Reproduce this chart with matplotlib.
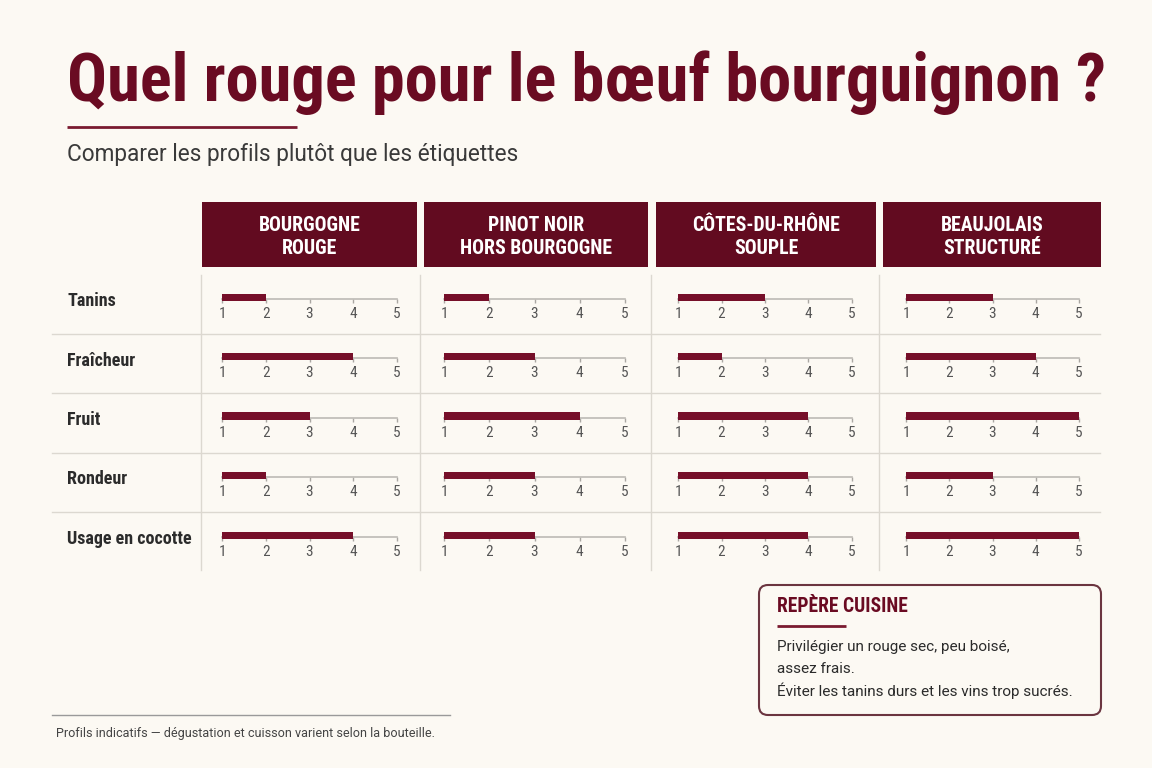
import matplotlib
matplotlib.use("Agg")
import matplotlib.pyplot as plt
from matplotlib.patches import Rectangle, FancyBboxPatch

# data
wines = ["BOURGOGNE\nROUGE", "PINOT NOIR\nHORS BOURGOGNE", "CÔTES-DU-RHÔNE\nSOUPLE", "BEAUJOLAIS\nSTRUCTURÉ"]
criteria = ["Tanins", "Fraîcheur", "Fruit", "Rondeur", "Usage en cocotte"]
bourgogne = [2, 4, 3, 2, 4]
pinot = [2, 3, 4, 3, 3]
cotes_rhone = [3, 2, 4, 4, 4]
beaujolais = [3, 4, 5, 3, 5]
scale_ticks = [1, 2, 3, 4, 5]
title = "Quel rouge pour le bœuf bourguignon ?"
subtitle = "Comparer les profils plutôt que les étiquettes"
note_title = "REPÈRE CUISINE"
note_lines = ["Privilégier un rouge sec, peu boisé,", "assez frais.",
              "Éviter les tanins durs et les vins trop sucrés."]
footer = "Profils indicatifs — dégustation et cuisson varient selon la bouteille."

series = [bourgogne, pinot, cotes_rhone, beaujolais]

W, H = 1152, 768
BG = "#fcf9f3"
WINE = "#6a0b22"
BAR = "#760f29"
COND = ["Roboto Condensed", "DejaVu Sans Condensed", "Liberation Sans Narrow", "Roboto", "DejaVu Sans"]
SANS = ["Roboto", "DejaVu Sans"]

fig = plt.figure(figsize=(W / 100, H / 100), dpi=100, facecolor=BG)
bg = fig.add_axes([0, 0, 1, 1])
bg.set_xlim(0, W)
bg.set_ylim(H, 0)
bg.axis("off")
bg.patch.set_alpha(0)
renderer = fig.canvas.get_renderer()


def fit(texts, width_px):
    # scale font size so the widest text spans width_px
    w = max(t.get_window_extent(renderer).width for t in texts)
    for t in texts:
        t.set_fontsize(t.get_fontsize() * width_px / w)


# title block
t = bg.text(67, 101, title, fontsize=50, fontweight="bold", color=WINE,
            family=COND, va="baseline", ha="left")
fit([t], 1038)
bg.plot([67, 297], [127, 127], color="#7a1a30", lw=2, solid_capstyle="butt")
t = bg.text(67, 155, subtitle, fontsize=15, color="#3a3a3a", family=SANS, va="center")
fit([t], 455)

# columns: header box and scale extent (pixels)
head_x = [(202, 417), (424, 648), (656, 876), (883, 1101)]
scale_x = [(222, 397), (444, 625), (678, 852), (906, 1079)]
row_top = [274 + i * 59.5 for i in range(len(criteria))]

heads = []
for (x0, x1), name in zip(head_x, wines):
    bg.add_patch(Rectangle((x0, 202), x1 - x0, 65, color="#620b20", lw=0))
    heads.append(bg.text((x0 + x1) / 2, 237, name, color="white", fontsize=13,
                         fontweight="bold", family=COND, ha="center", va="center",
                         linespacing=1.3))
fit(heads, 152)

# grid lines
for y in row_top[1:]:
    bg.plot([52, 1100], [y, y], color="#dcd8d0", lw=1)
for x in [201, 420, 651, 879]:
    bg.plot([x, x], [275, 570], color="#dcd8d0", lw=1)

labels = [bg.text(67, row_top[i] + 27, name, fontsize=13, fontweight="bold",
                  color="#2b2b2b", family=COND, va="center")
          for i, name in enumerate(criteria)]
fit(labels, 124)

# small bar scales
for j, vals in enumerate(series):
    x0, x1 = scale_x[j]
    for i, v in enumerate(vals):
        ty = row_top[i] + 24.5
        ax = fig.add_axes([x0 / W, 1 - ty / H, (x1 - x0) / W, 5 / H])
        ax.set_xlim(scale_ticks[0], scale_ticks[-1])
        ax.set_ylim(0, 1)
        ax.patch.set_visible(False)
        ax.barh(0.3, v - scale_ticks[0], left=scale_ticks[0], height=1.4,
                color=BAR, zorder=3, clip_on=False)
        for s in ["top", "left", "right"]:
            ax.spines[s].set_visible(False)
        ax.spines["bottom"].set_color("#bdbab5")
        ax.spines["bottom"].set_linewidth(1.2)
        ax.set_yticks([])
        ax.set_xticks(scale_ticks)
        ax.set_xticklabels([str(k) for k in scale_ticks], family=COND)
        ax.tick_params(axis="x", direction="out", length=3, width=1, color="#aaa7a2",
                       labelsize=11, labelcolor="#555555", pad=3)

# note box
bg.add_patch(FancyBboxPatch((759, 585), 342, 130, boxstyle="round,pad=0,rounding_size=9",
                            facecolor="none", edgecolor="#6b3540", lw=1.5))
t = bg.text(777, 607, note_title, fontsize=13, fontweight="bold", color=WINE,
            family=COND, va="center")
fit([t], 130)
bg.plot([777, 846], [626, 626], color="#7a1a30", lw=2, solid_capstyle="butt")
body = [bg.text(777, 647 + k * 22, line, fontsize=11, color="#2b2b2b", family=SANS,
                va="center") for k, line in enumerate(note_lines)]
fit(body, 296)

# footer
bg.plot([52, 450], [715, 715], color="#9a9a9a", lw=1)
t = bg.text(56, 733, footer, fontsize=9, color="#444444", family=SANS, va="center")
fit([t], 380)

fig.savefig("out.png", dpi=100, facecolor=BG)
